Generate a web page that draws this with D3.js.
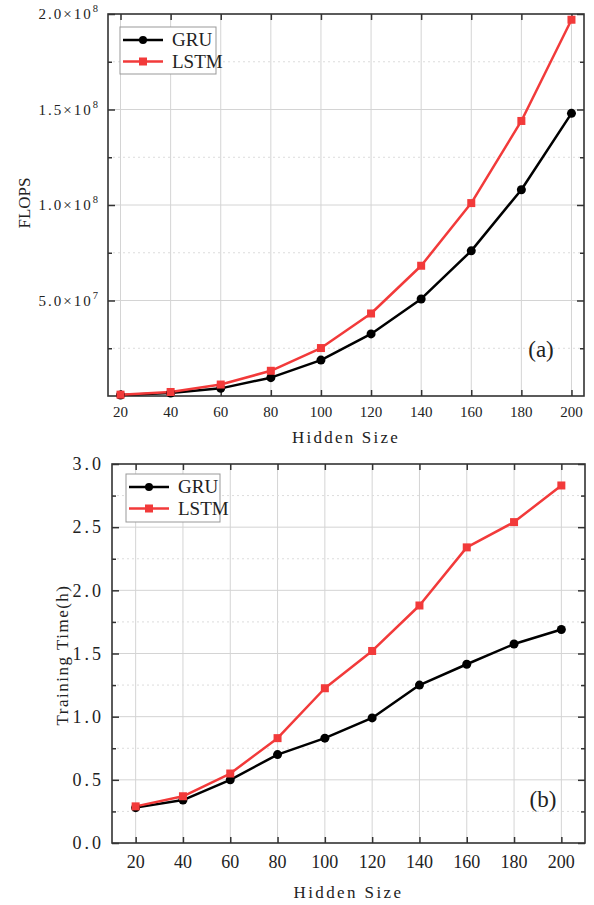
<!DOCTYPE html>
<html>
<head>
<meta charset="utf-8">
<script src="https://cdn.jsdelivr.net/npm/d3@7"></script>
<style>
	html, body { margin: 0; padding: 0; background: #fff; }
	svg text { font-family: 'Liberation Serif', 'Times New Roman', 'DejaVu Serif', serif; }
</style>
</head>
<body>
<svg id="chart" width="594" height="905"></svg>
<script>
const hiddenSizes = [20, 40, 60, 80, 100, 120, 140, 160, 180, 200];
const seriesNames = ['GRU', 'LSTM'];

// panel (a) - FLOPS
const flopsGRU = [0.05e7, 0.16e7, 0.4e7, 0.96e7, 1.88e7, 3.25e7, 5.08e7, 7.6e7, 1.08e8, 1.48e8];
const flopsLSTM = [0.07e7, 0.21e7, 0.6e7, 1.32e7, 2.51e7, 4.32e7, 6.82e7, 1.01e8, 1.44e8, 1.97e8];
const flopsTicks = [5e7, 1e8, 1.5e8, 2e8];
const flopsTickLabels = [['5.0×10', '7'], ['1.0×10', '8'], ['1.5×10', '8'], ['2.0×10', '8']];
const flopsMinor = [2.5e7, 7.5e7, 1.25e8, 1.75e8];

// panel (b) - training time
const timeGRU = [0.28, 0.34, 0.50, 0.70, 0.83, 0.99, 1.25, 1.415, 1.575, 1.69];
const timeLSTM = [0.29, 0.37, 0.55, 0.83, 1.225, 1.52, 1.88, 2.34, 2.54, 2.83];
const timeTicks = [0, 0.5, 1.0, 1.5, 2.0, 2.5, 3.0];
const timeTickLabels = ['0.0', '0.5', '1.0', '1.5', '2.0', '2.5', '3.0'];
const timeMinor = [0.25, 0.75, 1.25, 1.75, 2.25, 2.75];

const colors = { GRU: '#000000', LSTM: '#f23a3a' };
const serif = "'Liberation Serif', 'Times New Roman', 'DejaVu Serif', serif";
const svg = d3.select('#chart').attr('font-family', serif);

function drawPanel(p) {
	let x = d3.scaleLinear().domain(p.xDomain).range([p.left, p.right]);
	let y = d3.scaleLinear().domain(p.yDomain).range([p.bottom, p.top]);
	let g = svg.append('g');

	// grid
	g.selectAll('.vgrid').data(hiddenSizes).enter().append('line')
		.attr('x1', d => x(d)).attr('x2', d => x(d))
		.attr('y1', p.top).attr('y2', p.bottom)
		.attr('stroke', '#d4d4d4').attr('stroke-width', 1);
	g.selectAll('.hgrid').data(p.yTicks.filter(d => d > p.yDomain[0] && d < p.yDomain[1])).enter().append('line')
		.attr('x1', p.left).attr('x2', p.right)
		.attr('y1', d => y(d)).attr('y2', d => y(d))
		.attr('stroke', '#d4d4d4').attr('stroke-width', 1);
	g.selectAll('.mgrid').data(p.yMinor).enter().append('line')
		.attr('x1', p.left).attr('x2', p.right)
		.attr('y1', d => y(d)).attr('y2', d => y(d))
		.attr('stroke', '#dcdcdc').attr('stroke-width', 1)
		.attr('stroke-dasharray', '2,3');

	// axes with inward ticks
	let axisStyle = sel => {
		sel.select('.domain').remove();
		sel.selectAll('line').attr('stroke', '#333').attr('stroke-width', 1.5);
		sel.selectAll('text').remove();
	};
	g.append('g').attr('transform', `translate(0,${p.bottom})`)
		.call(d3.axisTop(x).tickValues(hiddenSizes).tickSize(6)).call(axisStyle);
	g.append('g').attr('transform', `translate(0,${p.top})`)
		.call(d3.axisBottom(x).tickValues(hiddenSizes).tickSize(6)).call(axisStyle);
	g.append('g').attr('transform', `translate(${p.left},0)`)
		.call(d3.axisRight(y).tickValues(p.yTicks).tickSize(7)).call(axisStyle);
	g.append('g').attr('transform', `translate(${p.left},0)`)
		.call(d3.axisRight(y).tickValues(p.yMinor).tickSize(4)).call(axisStyle);
	g.append('g').attr('transform', `translate(${p.right},0)`)
		.call(d3.axisLeft(y).tickValues(p.yTicks).tickSize(7)).call(axisStyle);
	g.append('g').attr('transform', `translate(${p.right},0)`)
		.call(d3.axisLeft(y).tickValues(p.yMinor).tickSize(4)).call(axisStyle);

	g.append('rect')
		.attr('x', p.left).attr('y', p.top)
		.attr('width', p.right - p.left).attr('height', p.bottom - p.top)
		.attr('fill', 'none').attr('stroke', '#333').attr('stroke-width', 1.6);

	// tick labels
	g.selectAll('.xlab').data(hiddenSizes).enter().append('text')
		.attr('x', d => x(d)).attr('y', p.bottom + p.xLabelDy)
		.attr('text-anchor', 'middle').attr('font-size', p.tickFont)
		.attr('fill', '#222').text(d => d);

	let yl = g.selectAll('.ylab').data(p.yTicks).enter().append('text')
		.attr('x', p.left - 8).attr('y', d => y(d) + p.tickFont * 0.35)
		.attr('text-anchor', 'end').attr('font-size', p.tickFont)
		.attr('letter-spacing', p.yLetterSpacing)
		.attr('fill', '#222');
	yl.each(function(d, i) {
		let lab = p.yTickLabels[i];
		let t = d3.select(this);
		if (Array.isArray(lab)) {
			t.append('tspan').text(lab[0]);
			t.append('tspan').attr('font-size', p.tickFont * 0.7).attr('dy', -7).text(lab[1]);
		} else {
			t.text(lab);
		}
	});

	// axis titles
	g.append('text')
		.attr('x', (p.left + p.right) / 2).attr('y', p.xTitleY)
		.attr('text-anchor', 'middle').attr('font-size', p.titleFont)
		.attr('letter-spacing', p.titleSpacing)
		.attr('fill', '#222').text('Hidden Size');
	g.append('text')
		.attr('transform', `translate(${p.yTitleX},${p.yTitleY}) rotate(-90)`)
		.attr('text-anchor', 'middle').attr('font-size', p.titleFont)
		.attr('letter-spacing', p.yTitleSpacing)
		.attr('fill', '#222').text(p.yTitle);

	// lines and markers
	let line = d3.line().x((d, i) => x(hiddenSizes[i])).y(d => y(d));
	p.series.forEach(s => {
		g.append('path').datum(s.values)
			.attr('d', line).attr('fill', 'none')
			.attr('stroke', colors[s.name]).attr('stroke-width', 2.5)
			.attr('stroke-linejoin', 'round');
	});
	p.series.forEach(s => {
		if (s.name === 'GRU') {
			g.selectAll(null).data(s.values).enter().append('circle')
				.attr('cx', (d, i) => x(hiddenSizes[i])).attr('cy', d => y(d))
				.attr('r', 4.5).attr('fill', colors.GRU);
		} else {
			g.selectAll(null).data(s.values).enter().append('rect')
				.attr('x', (d, i) => x(hiddenSizes[i]) - 4).attr('y', d => y(d) - 4)
				.attr('width', 8).attr('height', 8).attr('fill', colors.LSTM);
		}
	});

	// legend
	let lg = g.append('g').attr('transform', `translate(${p.legend[0]},${p.legend[1]})`);
	lg.append('rect').attr('width', p.legend[2]).attr('height', p.legend[3])
		.attr('fill', '#fff').attr('stroke', '#999').attr('stroke-width', 1);
	seriesNames.forEach((name, i) => {
		let cy = 13 + i * 21.5;
		lg.append('line').attr('x1', 3).attr('x2', 43).attr('y1', cy).attr('y2', cy)
			.attr('stroke', colors[name]).attr('stroke-width', 2.5);
		if (name === 'GRU') {
			lg.append('circle').attr('cx', 23).attr('cy', cy).attr('r', 4).attr('fill', colors[name]);
		} else {
			lg.append('rect').attr('x', 19).attr('y', cy - 4).attr('width', 8).attr('height', 8).attr('fill', colors[name]);
		}
		lg.append('text').attr('x', 52).attr('y', cy + 6)
			.attr('font-size', 19).attr('fill', '#222').text(name);
	});

	g.append('text').attr('x', p.tag[0]).attr('y', p.tag[1])
		.attr('text-anchor', 'middle').attr('font-size', 23)
		.attr('fill', '#222').text(p.tagText);
}

drawPanel({
	left: 108, right: 584, top: 14, bottom: 396,
	xDomain: [15, 205], yDomain: [0, 2e8],
	yTicks: flopsTicks, yTickLabels: flopsTickLabels, yMinor: flopsMinor,
	tickFont: 15, yLetterSpacing: 2, xLabelDy: 21,
	titleFont: 17, titleSpacing: 2.2, xTitleY: 443,
	yTitle: 'FLOPS', yTitleX: 30, yTitleY: 203, yTitleSpacing: 0,
	series: [{ name: 'GRU', values: flopsGRU }, { name: 'LSTM', values: flopsLSTM }],
	legend: [120, 27, 96, 47], tag: [541, 357], tagText: '(a)'
});

drawPanel({
	left: 112, right: 585, top: 464, bottom: 843,
	xDomain: [10, 210], yDomain: [0, 3],
	yTicks: timeTicks, yTickLabels: timeTickLabels, yMinor: timeMinor,
	tickFont: 18, yLetterSpacing: 3, xLabelDy: 25,
	titleFont: 17, titleSpacing: 2.4, xTitleY: 898,
	yTitle: 'Training Time(h)', yTitleX: 68, yTitleY: 655, yTitleSpacing: 1.5,
	series: [{ name: 'GRU', values: timeGRU }, { name: 'LSTM', values: timeLSTM }],
	legend: [126, 474, 94, 48], tag: [543, 807], tagText: '(b)'
});
</script>
</body>
</html>
